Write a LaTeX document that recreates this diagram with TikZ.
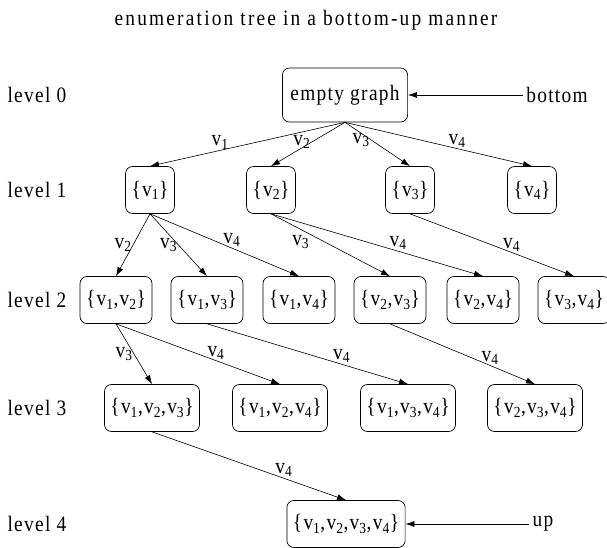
\documentclass[tikz,border=0pt]{standalone}
\usepackage{fontspec}
\setmainfont[LetterSpace=6,FakeStretch=0.88]{Liberation Serif}
\usetikzlibrary{arrows.meta}
\newcommand{\vx}[1]{v\textsubscript{#1}}
\newcommand{\vset}[1]{\{#1\}}

\begin{document}
\begin{tikzpicture}[x=1pt,y=-1pt,font=\fontsize{22}{26}\selectfont,
    >={Latex[length=9pt,width=6pt]},
    setbox/.style={draw,rounded corners=7pt,minimum height=47pt,
      inner xsep=6pt,line width=0.7pt},
    edge/.style={->,line width=0.6pt},
    lab/.style={inner sep=1pt}]
  \useasboundingbox (0,0) rectangle (607,548);

  \node[font=\fontsize{22}{26}\selectfont\addfontfeature{LetterSpace=10}]
    (title) at (306,20) {enumeration tree in a bottom-up manner};

  % level names
  \node[anchor=west] (lev0) at (4,95) {level 0};
  \node[anchor=west] (lev1) at (4,190) {level 1};
  \node[anchor=west] (lev2) at (4,300) {level 2};
  \node[anchor=west] (lev3) at (4,408) {level 3};
  \node[anchor=west] (lev4) at (4,524) {level 4};

  % level 0
  \node[setbox,minimum height=54pt,inner xsep=8pt] (root) at (345,95)
    {empty graph};
  \node (bot) at (557,95) {bottom};
  \draw[edge] (bot.west) -- (root.east);

  % level 1
  \node[setbox] (a1) at (150,190) {\vset{\vx{1}}};
  \node[setbox] (a2) at (271,190) {\vset{\vx{2}}};
  \node[setbox] (a3) at (410,190) {\vset{\vx{3}}};
  \node[setbox] (a4) at (532,190) {\vset{\vx{4}}};

  % level 2
  \node[setbox] (b12) at (116,300) {\vset{\vx{1},\vx{2}}};
  \node[setbox] (b13) at (207,300) {\vset{\vx{1},\vx{3}}};
  \node[setbox] (b14) at (299,300) {\vset{\vx{1},\vx{4}}};
  \node[setbox] (b23) at (390,300) {\vset{\vx{2},\vx{3}}};
  \node[setbox] (b24) at (483,300) {\vset{\vx{2},\vx{4}}};
  \node[setbox] (b34) at (574,300) {\vset{\vx{3},\vx{4}}};

  % level 3
  \node[setbox] (c123) at (152,408) {\vset{\vx{1},\vx{2},\vx{3}}};
  \node[setbox] (c124) at (280,408) {\vset{\vx{1},\vx{2},\vx{4}}};
  \node[setbox] (c134) at (408,408) {\vset{\vx{1},\vx{3},\vx{4}}};
  \node[setbox] (c234) at (535,408) {\vset{\vx{2},\vx{3},\vx{4}}};

  % level 4
  \node[setbox] (top) at (346,524) {\vset{\vx{1},\vx{2},\vx{3},\vx{4}}};
  \node (up) at (543,524) {up};
  \draw[edge] (up.west) -- (top.east);

  % edges 0 -> 1
  \draw[edge] (root.south) -- (a1.north) node[lab,pos=0.64,above] {\vx{1}};
  \draw[edge] (root.south) -- (a2.north) node[lab,pos=0.45,left] {\vx{2}};
  \draw[edge] (root.south) -- (a3.north) node[lab,pos=0.4,left] {\vx{3}};
  \draw[edge] (root.south) -- (a4.north) node[lab,pos=0.6,above] {\vx{4}};

  % edges 1 -> 2
  \draw[edge] (a1.south) -- (b12.north) node[lab,pos=0.5,left] {\vx{2}};
  \draw[edge] (a1.south) -- (b13.north) node[lab,pos=0.5,left] {\vx{3}};
  \draw[edge] (a1.south) -- (b14.north) node[lab,pos=0.55,above] {\vx{4}};
  \draw[edge] (a2.south) -- (b23.north)
    node[lab,pos=0.45,left=14pt] {\vx{3}};
  \draw[edge] (a2.south) -- (b24.north) node[lab,pos=0.6,above] {\vx{4}};
  \draw[edge] (a3.south) -- (b34.north) node[lab,pos=0.62,above] {\vx{4}};

  % edges 2 -> 3
  \draw[edge] (b12.south) -- (c123.north) node[lab,pos=0.5,left] {\vx{3}};
  \draw[edge] (b12.south) -- (c124.north) node[lab,pos=0.61,above] {\vx{4}};
  \draw[edge] (b13.south) -- (c134.north) node[lab,pos=0.67,above] {\vx{4}};
  \draw[edge] (b23.south) -- (c234.north) node[lab,pos=0.69,above] {\vx{4}};

  % edge 3 -> 4
  \draw[edge] (c123.south) -- (top.north) node[lab,pos=0.68,above] {\vx{4}};
\end{tikzpicture}
\end{document}
